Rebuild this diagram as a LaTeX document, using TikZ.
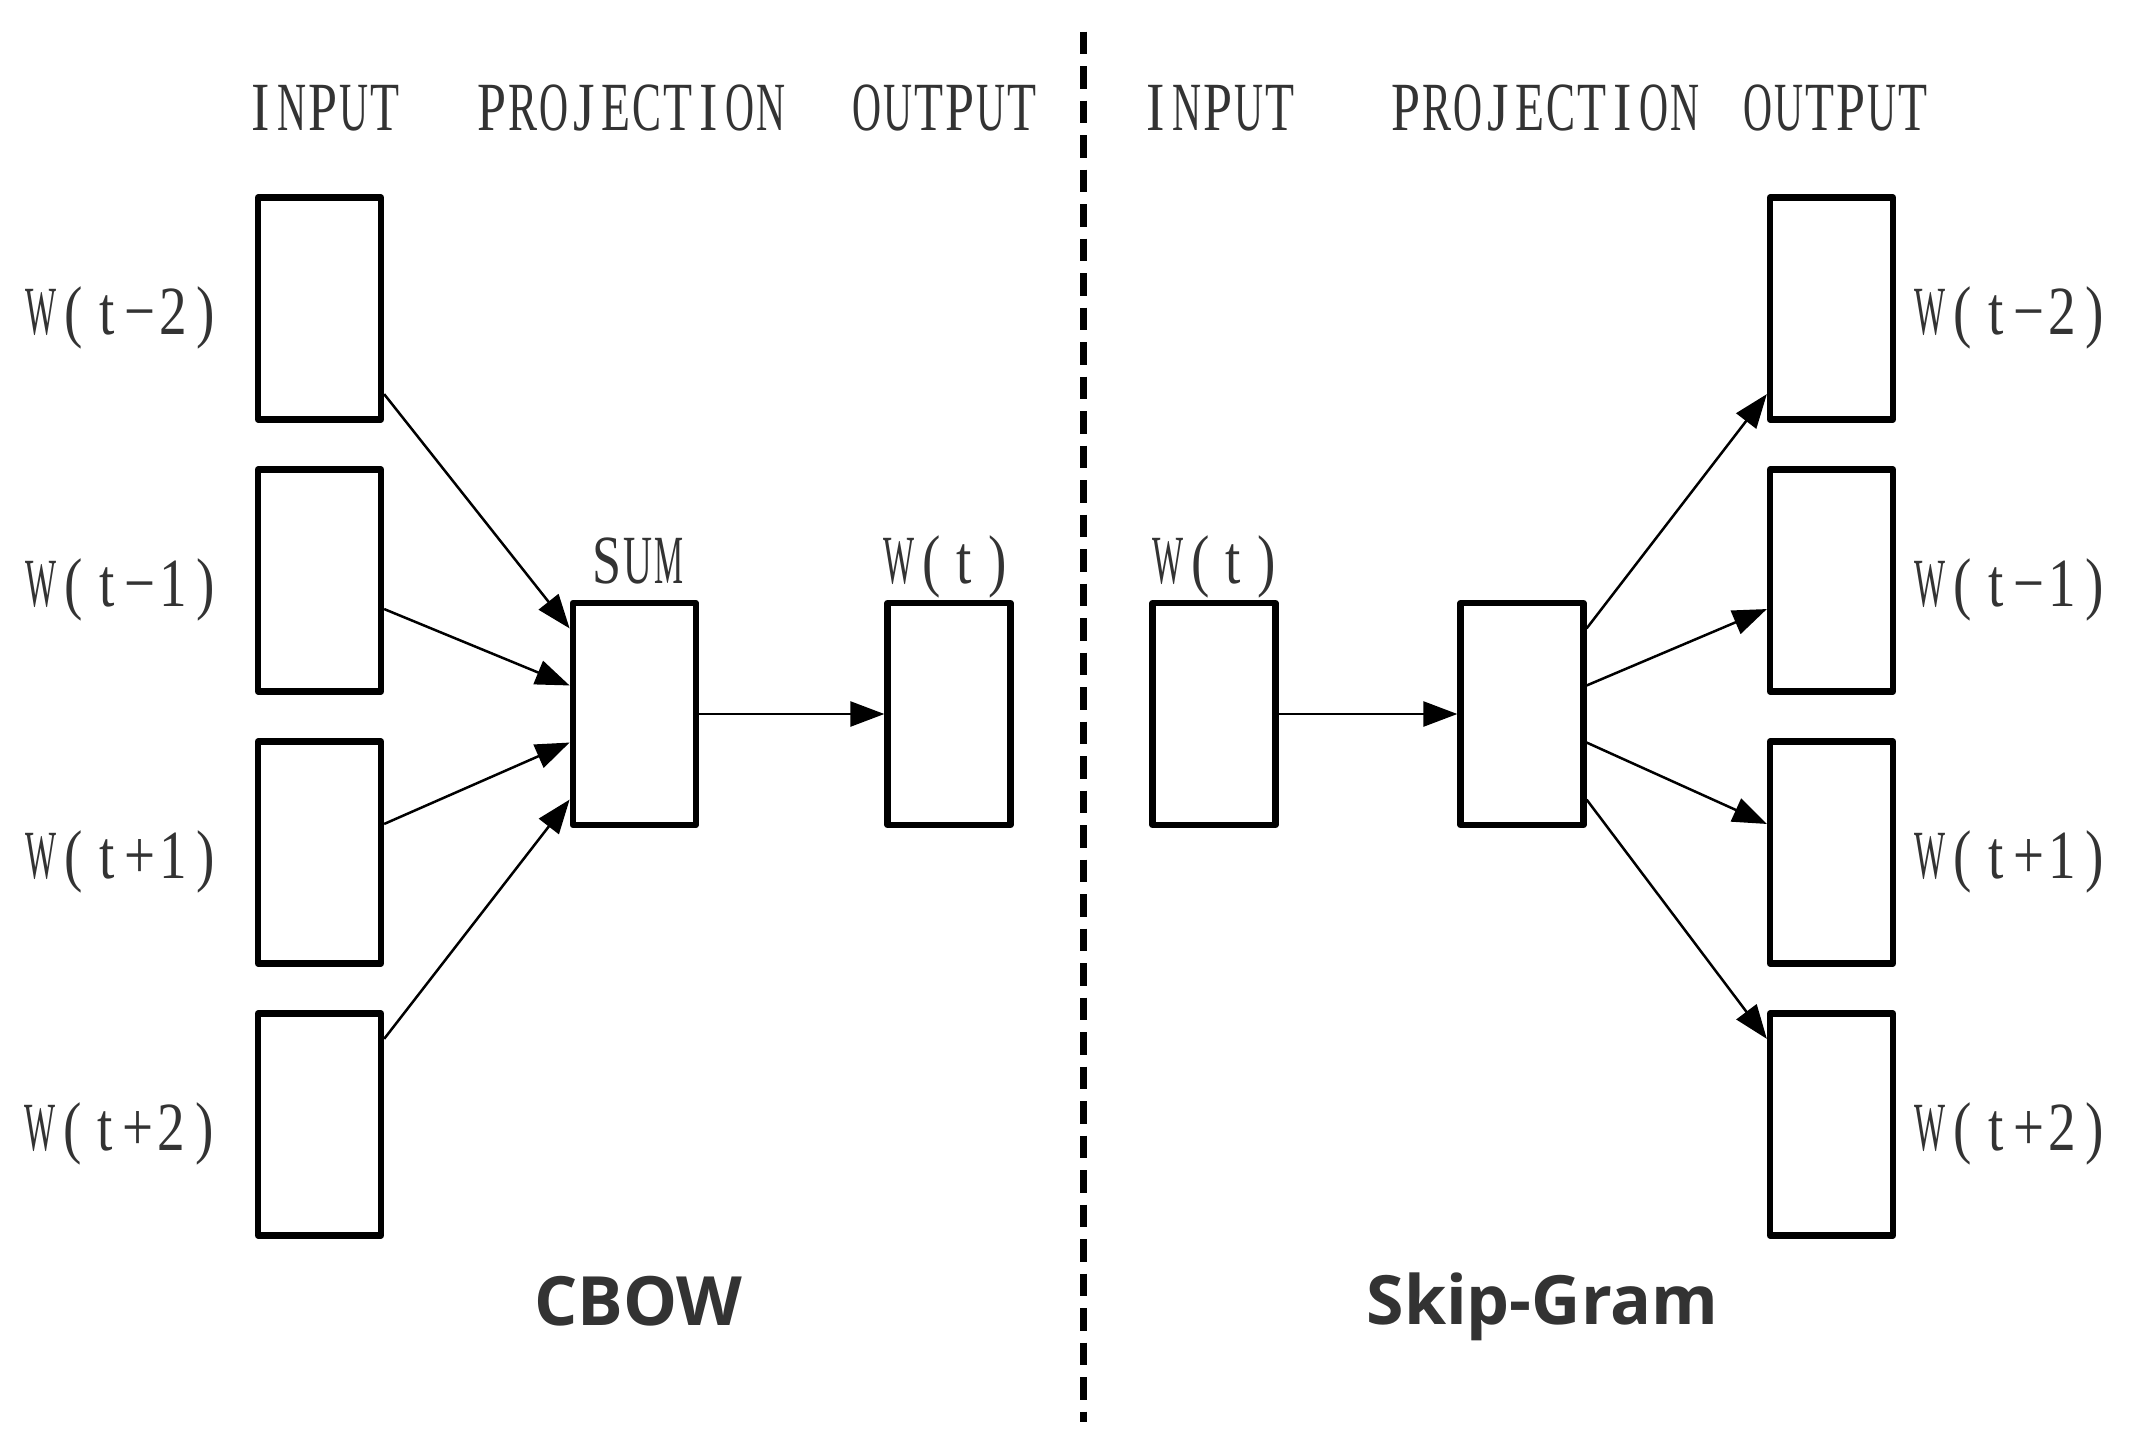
\documentclass[tikz,border=0pt]{standalone}
\usepackage{fontspec}
\usepackage{graphicx}
\usetikzlibrary{arrows.meta,calc}
\setmainfont{Liberation Serif}
\newfontfamily\condserif[FakeStretch=0.8]{Liberation Serif}
\newfontfamily\titlesans{Open Sans}
\definecolor{txt}{RGB}{51,51,51}
\makeatletter
\newsavebox\cl@box
\newlength\cl@cell
\newlength\cl@max
% fixed-pitch setting: every character in a cell, wide glyphs narrowed to fit
\newcommand\cells[2][33pt]{\setlength\cl@cell{#1}\setlength\cl@max{\cl@cell}\addtolength\cl@max{-2pt}%
  \@tfor\cl@c:=#2\do{\makebox[\cl@cell][c]{\sbox\cl@box{\cl@c}\ifdim\wd\cl@box>\cl@max\resizebox{\cl@max}{\height}{\usebox\cl@box}\else\usebox\cl@box\fi}}}
\makeatother
\begin{document}
\begin{tikzpicture}[x=1pt,y=-1pt,
  vbox/.style={draw=black,line width=6.3pt,line join=round,minimum width=123pt,minimum height=222pt,inner sep=0pt},
  lbl/.style={text=txt,font=\condserif\fontsize{69}{80}\selectfont,anchor=base,inner sep=0pt},
  title/.style={text=txt,font=\titlesans\bfseries\fontsize{68}{80}\selectfont,anchor=base,inner sep=0pt},
  arr/.style={line width=2.5pt,-{Triangle[length=34pt,width=25pt]}},
  sep/.style={line width=7pt,dash pattern=on 22.5pt off 12pt}]
\useasboundingbox[fill=white] (0,0) rectangle (2130,1451);

% CBOW
\node[vbox] (i1) at (319.5,308.5) {};
\node[vbox] (i2) at (319.5,580.5) {};
\node[vbox] (i3) at (319.5,852.5) {};
\node[vbox] (i4) at (319.5,1124.5) {};
\node[vbox] (sum) at (634.25,714) {};
\node[vbox] (cout) at (949,714) {};

% Skip-Gram
\node[vbox] (sin) at (1214,714) {};
\node[vbox] (proj) at (1522,714) {};
\node[vbox] (o1) at (1831.5,308.5) {};
\node[vbox] (o2) at (1831.5,580.5) {};
\node[vbox] (o3) at (1831.5,852.5) {};
\node[vbox] (o4) at (1831.5,1124.5) {};

% headers
\node[lbl] (h1) at (323,130.7) {\cells[31pt]{INPUT}};
\node[lbl] (h2) at (631,130.7) {\cells[31pt]{PROJECTION}};
\node[lbl] (h3) at (944,130.7) {\cells[31pt]{OUTPUT}};
\node[lbl] (h4) at (1218,130.7) {\cells[31pt]{INPUT}};
\node[lbl] (h5) at (1545,130.7) {\cells[31pt]{PROJECTION}};
\node[lbl] (h6) at (1835,130.7) {\cells[31pt]{OUTPUT}};

\node[lbl] (lsum) at (637.5,583) {\cells[31pt]{SUM}};
\node[lbl] (lwt1) at (948,583) {\cells{W(t)}};
\node[lbl] (lwt2) at (1217,583) {\cells{W(t)}};

\node[lbl] (a1) at (123.5,334) {\cells{W(t−2)}};
\node[lbl] (a2) at (123.5,606) {\cells{W(t−1)}};
\node[lbl] (a3) at (123.5,878) {\cells{W(t+1)}};
\node[lbl] (a4) at (122,1150) {\cells{W(t+2)}};
\node[lbl] (b1) at (2012.5,334) {\cells{W(t−2)}};
\node[lbl] (b2) at (2012.5,606) {\cells{W(t−1)}};
\node[lbl] (b3) at (2012.5,878) {\cells{W(t+1)}};
\node[lbl] (b4) at (2012.5,1150) {\cells{W(t+2)}};

\node[title] (cbow) at (638.5,1325) {CBOW};
\node[title] (skip) at (1542.5,1324) {Skip-Gram};

% CBOW arrows
\draw[arr] ($(i1.north east)!0.875!(i1.south east)$) -- ($(sum.north west)!0.125!(sum.south west)$);
\draw[arr] ($(i2.north east)!0.625!(i2.south east)$) -- ($(sum.north west)!0.375!(sum.south west)$);
\draw[arr] ($(i3.north east)!0.375!(i3.south east)$) -- ($(sum.north west)!0.625!(sum.south west)$);
\draw[arr] ($(i4.north east)!0.125!(i4.south east)$) -- ($(sum.north west)!0.875!(sum.south west)$);
\draw[arr] (sum.east) -- (cout.west);

% Skip-Gram arrows
\draw[arr] (sin.east) -- (proj.west);
\draw[arr] ($(proj.north east)!0.125!(proj.south east)$) -- ($(o1.north west)!0.875!(o1.south west)$);
\draw[arr] ($(proj.north east)!0.375!(proj.south east)$) -- ($(o2.north west)!0.625!(o2.south west)$);
\draw[arr] ($(proj.north east)!0.625!(proj.south east)$) -- ($(o3.north west)!0.375!(o3.south west)$);
\draw[arr] ($(proj.north east)!0.875!(proj.south east)$) -- ($(o4.north west)!0.125!(o4.south west)$);

% separator
\coordinate (dtop) at (1083.7,31.7);
\coordinate (dbot) at (1083.7,1421.7);
\draw[sep] (dtop) -- (dbot);
\end{tikzpicture}
\end{document}
